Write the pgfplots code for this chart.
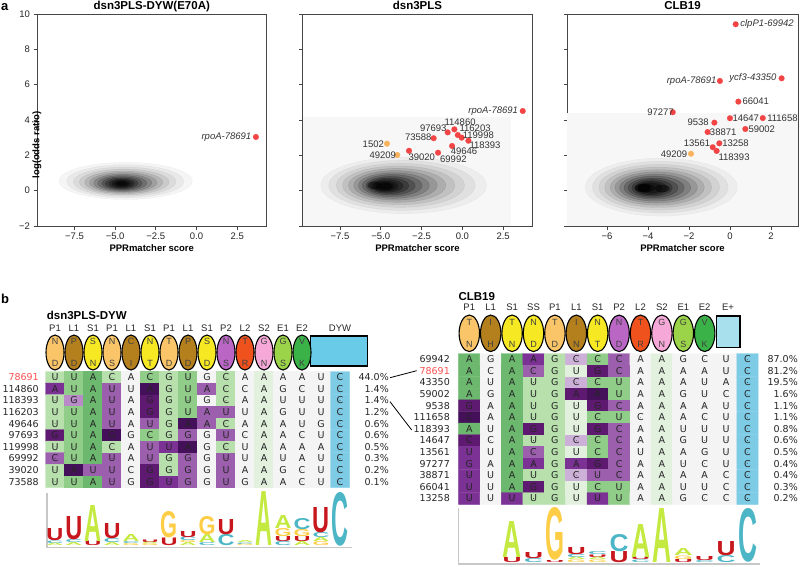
\documentclass[border=0pt]{standalone}
\usepackage{pgfplots}
\pgfplotsset{compat=1.18}
\usepackage{pgfplotstable}
\usepackage{graphicx}
\usepackage{fontspec}
\setmainfont{Liberation Sans}
\newfontfamily\dvs{DejaVu Sans}

\definecolor{ptred}{RGB}{242,68,68}
\definecolor{ptorange}{RGB}{250,178,92}
\definecolor{lblred}{RGB}{250,80,80}
\definecolor{cP1}{RGB}{249,197,104}
\definecolor{cL1}{RGB}{180,128,30}
\definecolor{cS1}{RGB}{246,232,35}
\definecolor{cP2}{RGB}{185,102,196}
\definecolor{cL2}{RGB}{240,82,30}
\definecolor{cS2}{RGB}{246,168,216}
\definecolor{cE1}{RGB}{155,212,72}
\definecolor{cE2}{RGB}{58,178,72}
\definecolor{cDYW}{RGB}{106,203,232}
\definecolor{cEp}{RGB}{168,224,238}
\definecolor{cU}{RGB}{200,22,29}
\definecolor{cA}{RGB}{196,233,64}
\definecolor{cG}{RGB}{253,205,70}
\definecolor{cC}{RGB}{76,182,198}
\definecolor{axgray}{RGB}{70,70,70}

\pgfplotsset{
  pa/.style={scale only axis, height=212pt, ymin=-2, ymax=10,
    ytick={-2,0,2,4,6,8,10},
    axis line style={draw=axgray, line width=0.9pt},
    tick style={draw=axgray, line width=0.8pt},
    tick align=outside, major tick length=3.5pt, tick pos=left,
    tick label style={font=\fontsize{9.5}{11}\selectfont, text=black!85},
    every axis title/.style={at={(axis description cs:0.5,1)}, anchor=base, yshift=4.5pt, font=\bfseries\fontsize{11.5}{13}\selectfont},
    xlabel={PPRmatcher score},
    every axis x label/.style={at={(axis description cs:0.5,0)}, anchor=base, yshift=-25pt, font=\bfseries\fontsize{9.5}{11}\selectfont},
    clip mode=individual},
  blob/.style n args={3}{only marks, mark=*, mark size=#1pt, mark options={xscale=#2, fill=black, draw=none, opacity=#3}},
  redpt/.style={only marks, mark=*, mark size=2.9pt, mark options={fill=ptred, draw=ptred, line width=0.1pt}},
  orpt/.style={only marks, mark=*, mark size=2.9pt, mark options={fill=ptorange, draw=ptorange, line width=0.1pt}},
  ellL/.style={only marks, mark=*, mark size=9pt, mark options={yscale=1.944, fill=#1, draw=black, line width=1.1pt}},
  ellR/.style={only marks, mark=*, mark size=10.2pt, mark options={yscale=1.79, fill=#1, draw=black, line width=1.1pt}},
  alnletters/.style={only marks, mark=*, mark size=0.01pt, mark options={draw=none, fill=none},
    point meta=explicit symbolic, nodes near coords,
    nodes near coords style={anchor=center, font=\dvs\fontsize{9.5}{11}\selectfont, inner sep=0pt, text=black!85}},
}
\tikzset{plab/.style={font=\fontsize{9.5}{11}\selectfont, text=black!80, inner sep=0pt},
  alnt/.style={font=\dvs\fontsize{9.5}{11}\selectfont, inner sep=0pt, text=black!85},
  mlab/.style={font=\fontsize{9.5}{11}\selectfont, inner sep=0pt, text=black!85},
  elet/.style={font=\fontsize{9}{10}\selectfont, inner sep=0pt, text=black!75}}

\pgfplotstableread[row sep=\\]{
c r m l\\
1 1 2 U\\ 2 1 3 U\\ 3 1 4 A\\ 4 1 2 C\\ 5 1 0 A\\ 6 1 3 C\\ 7 1 2 G\\ 8 1 3 U\\ 9 1 0 G\\ 10 1 2 C\\ 11 1 0 A\\ 12 1 1 A\\ 13 1 0 A\\ 14 1 0 A\\ 15 1 0 U\\ 16 1 11 C\\
1 2 8 A\\ 2 2 3 U\\ 3 2 4 A\\ 4 2 7 U\\ 5 2 0 U\\ 6 2 10 A\\ 7 2 2 G\\ 8 2 3 U\\ 9 2 7 A\\ 10 2 2 C\\ 11 2 0 C\\ 12 2 1 A\\ 13 2 0 G\\ 14 2 0 C\\ 15 2 0 U\\ 16 2 11 C\\
1 3 2 U\\ 2 3 6 G\\ 3 3 4 A\\ 4 3 7 U\\ 5 3 0 A\\ 6 3 9 G\\ 7 3 2 G\\ 8 3 3 U\\ 9 3 0 G\\ 10 3 2 C\\ 11 3 0 A\\ 12 3 1 A\\ 13 3 0 U\\ 14 3 0 U\\ 15 3 0 U\\ 16 3 11 C\\
1 4 2 U\\ 2 4 3 U\\ 3 4 4 A\\ 4 4 7 U\\ 5 4 0 A\\ 6 4 9 G\\ 7 4 2 G\\ 8 4 3 U\\ 9 4 7 A\\ 10 4 7 U\\ 11 4 0 U\\ 12 4 1 A\\ 13 4 0 G\\ 14 4 0 U\\ 15 4 0 U\\ 16 4 11 C\\
1 5 2 U\\ 2 5 3 U\\ 3 5 4 A\\ 4 5 7 U\\ 5 5 0 A\\ 6 5 7 U\\ 7 5 2 G\\ 8 5 10 A\\ 9 5 7 A\\ 10 5 2 C\\ 11 5 0 A\\ 12 5 1 A\\ 13 5 0 A\\ 14 5 0 U\\ 15 5 0 G\\ 16 5 11 C\\
1 6 9 G\\ 2 6 3 U\\ 3 6 4 A\\ 4 6 10 G\\ 5 6 0 G\\ 6 6 3 C\\ 7 6 2 G\\ 8 6 7 G\\ 9 6 0 G\\ 10 6 7 U\\ 11 6 0 C\\ 12 6 1 A\\ 13 6 0 A\\ 14 6 0 C\\ 15 6 0 U\\ 16 6 11 C\\
1 7 2 U\\ 2 7 3 U\\ 3 7 4 A\\ 4 7 2 C\\ 5 7 0 A\\ 6 7 7 U\\ 7 7 8 U\\ 8 7 10 A\\ 9 7 0 G\\ 10 7 2 C\\ 11 7 0 U\\ 12 7 1 A\\ 13 7 0 A\\ 14 7 0 A\\ 15 7 0 A\\ 16 7 11 C\\
1 8 7 C\\ 2 8 3 U\\ 3 8 4 A\\ 4 8 7 U\\ 5 8 0 A\\ 6 8 7 U\\ 7 8 2 G\\ 8 8 7 G\\ 9 8 0 G\\ 10 8 7 U\\ 11 8 0 U\\ 12 8 1 A\\ 13 8 0 U\\ 14 8 0 A\\ 15 8 0 U\\ 16 8 11 C\\
1 9 2 U\\ 2 9 10 A\\ 3 9 7 U\\ 4 9 7 U\\ 5 9 0 C\\ 6 9 9 G\\ 7 9 2 G\\ 8 9 7 G\\ 9 9 0 G\\ 10 9 7 U\\ 11 9 0 A\\ 12 9 1 A\\ 13 9 0 G\\ 14 9 0 C\\ 15 9 0 U\\ 16 9 11 C\\
1 10 2 U\\ 2 10 3 U\\ 3 10 4 A\\ 4 10 7 U\\ 5 10 0 G\\ 6 10 9 G\\ 7 10 8 U\\ 8 10 7 G\\ 9 10 0 G\\ 10 10 7 U\\ 11 10 0 G\\ 12 10 1 A\\ 13 10 0 A\\ 14 10 0 C\\ 15 10 0 U\\ 16 10 11 C\\
}\leftaln

\pgfplotstableread[row sep=\\]{
c r m l\\
1 1 4 A\\ 2 1 0 G\\ 3 1 4 A\\ 4 1 8 A\\ 5 1 2 G\\ 6 1 5 C\\ 7 1 3 C\\ 8 1 7 C\\ 9 1 0 A\\ 10 1 1 A\\ 11 1 0 G\\ 12 1 0 C\\ 13 1 0 U\\ 14 1 11 C\\
1 2 4 A\\ 2 2 0 C\\ 3 2 4 A\\ 4 2 7 C\\ 5 2 2 G\\ 6 2 1 U\\ 7 2 9 G\\ 8 2 7 C\\ 9 2 0 A\\ 10 2 1 A\\ 11 2 0 A\\ 12 2 0 A\\ 13 2 0 U\\ 14 2 11 C\\
1 3 4 A\\ 2 3 0 U\\ 3 3 4 A\\ 4 3 2 U\\ 5 3 2 G\\ 6 3 5 C\\ 7 3 3 C\\ 8 3 3 U\\ 9 3 0 A\\ 10 3 1 A\\ 11 3 0 A\\ 12 3 0 U\\ 13 3 0 A\\ 14 3 11 C\\
1 4 4 A\\ 2 4 0 G\\ 3 4 4 A\\ 4 4 2 U\\ 5 4 2 G\\ 6 4 9 A\\ 7 4 10 A\\ 8 4 3 U\\ 9 4 0 A\\ 10 4 1 A\\ 11 4 0 G\\ 12 4 0 U\\ 13 4 0 C\\ 14 4 11 C\\
1 5 9 G\\ 2 5 0 A\\ 3 5 4 A\\ 4 5 2 U\\ 5 5 2 G\\ 6 5 1 U\\ 7 5 9 G\\ 8 5 7 C\\ 9 5 0 A\\ 10 5 1 A\\ 11 5 0 A\\ 12 5 0 A\\ 13 5 0 U\\ 14 5 11 C\\
1 6 10 C\\ 2 6 0 A\\ 3 6 4 A\\ 4 6 2 U\\ 5 6 2 G\\ 6 6 1 U\\ 7 6 3 C\\ 8 6 3 U\\ 9 6 0 C\\ 10 6 1 A\\ 11 6 0 A\\ 12 6 0 C\\ 13 6 0 U\\ 14 6 11 C\\
1 7 4 A\\ 2 7 0 U\\ 3 7 4 A\\ 4 7 9 G\\ 5 7 2 G\\ 6 7 1 U\\ 7 7 9 G\\ 8 7 7 C\\ 9 7 0 A\\ 10 7 1 A\\ 11 7 0 U\\ 12 7 0 U\\ 13 7 0 U\\ 14 7 11 C\\
1 8 9 C\\ 2 8 0 C\\ 3 8 4 A\\ 4 8 2 U\\ 5 8 2 G\\ 6 8 5 C\\ 7 8 3 C\\ 8 8 7 C\\ 9 8 0 A\\ 10 8 1 A\\ 11 8 0 G\\ 12 8 0 U\\ 13 8 0 U\\ 14 8 11 C\\
1 9 8 U\\ 2 9 0 U\\ 3 9 4 A\\ 4 9 7 C\\ 5 9 2 G\\ 6 9 1 U\\ 7 9 3 C\\ 8 9 7 C\\ 9 9 0 U\\ 10 9 1 A\\ 11 9 0 A\\ 12 9 0 G\\ 13 9 0 U\\ 14 9 11 C\\
1 10 8 G\\ 2 10 0 A\\ 3 10 4 A\\ 4 10 8 A\\ 5 10 2 G\\ 6 10 8 A\\ 7 10 9 G\\ 8 10 7 C\\ 9 10 0 A\\ 10 10 1 A\\ 11 10 0 U\\ 12 10 0 C\\ 13 10 0 U\\ 14 10 11 C\\
1 11 8 U\\ 2 11 0 U\\ 3 11 4 A\\ 4 11 2 U\\ 5 11 2 G\\ 6 11 5 C\\ 7 11 7 U\\ 8 11 7 C\\ 9 11 0 A\\ 10 11 1 A\\ 11 11 0 A\\ 12 11 0 A\\ 13 11 0 C\\ 14 11 11 C\\
1 12 8 U\\ 2 12 0 U\\ 3 12 4 A\\ 4 12 9 G\\ 5 12 2 G\\ 6 12 1 U\\ 7 12 3 C\\ 8 12 3 U\\ 9 12 0 A\\ 10 12 1 A\\ 11 12 0 U\\ 12 12 0 U\\ 13 12 0 C\\ 14 12 11 C\\
1 13 8 U\\ 2 13 0 U\\ 3 13 8 U\\ 4 13 2 U\\ 5 13 2 G\\ 6 13 1 U\\ 7 13 8 U\\ 8 13 3 U\\ 9 13 0 A\\ 10 13 1 A\\ 11 13 0 G\\ 12 13 0 C\\ 13 13 0 C\\ 14 13 11 C\\
}\rightaln

\begin{document}
\begin{tikzpicture}[x=1pt,y=-1pt]
\useasboundingbox (0,0) rectangle (800,567);

% ---------------- panel b (pixel-coordinate axis) ----------------
\begin{axis}[at={(0pt,0pt)}, anchor=north west, scale only axis, width=800pt, height=567pt,
  xmin=0, xmax=800, ymin=0, ymax=567, y dir=reverse, hide axis, clip=false,
  colormap={aln}{rgb255=(244,244,244) rgb255=(226,241,222) rgb255=(183,224,173) rgb255=(143,205,136)
    rgb255=(108,184,110) rgb255=(205,176,216) rgb255=(185,138,200) rgb255=(156,95,174)
    rgb255=(123,50,148) rgb255=(94,26,112) rgb255=(69,16,90) rgb255=(126,203,230)}]
\addplot[matrix plot*, mesh/cols=16, point meta=explicit, colormap access=direct]
  table[x expr={55+19*(\thisrow{c}-1)}, y expr={377.3+11.6*(\thisrow{r}-1)}, meta=m] {\leftaln};
\addplot[matrix plot*, mesh/cols=14, point meta=explicit, colormap access=direct]
  table[x expr={469.3+21.4*(\thisrow{c}-1)}, y expr={359.3+11.6*(\thisrow{r}-1)}, meta=m] {\rightaln};
\addplot[alnletters] table[x expr={55+19*(\thisrow{c}-1)}, y expr={377.3+11.6*(\thisrow{r}-1)}, meta=l] {\leftaln};
\addplot[alnletters] table[x expr={469.3+21.4*(\thisrow{c}-1)}, y expr={359.3+11.6*(\thisrow{r}-1)}, meta=l] {\rightaln};
% motif ellipses (left)
\addplot[ellL=cP1] coordinates {(55,352.5) (112,352.5) (169,352.5)};
\addplot[ellL=cL1] coordinates {(74,352.5) (131,352.5) (188,352.5)};
\addplot[ellL=cS1] coordinates {(93,352.5) (150,352.5) (207,352.5)};
\addplot[ellL=cP2] coordinates {(226,352.5)};
\addplot[ellL=cL2] coordinates {(245,352.5)};
\addplot[ellL=cS2] coordinates {(264,352.5)};
\addplot[ellL=cE1] coordinates {(283,352.5)};
\addplot[ellL=cE2] coordinates {(302,352.5)};
\addplot[fill=cDYW, draw=black, line width=1.3pt] coordinates {(310.7,336) (367.7,336) (367.7,366) (310.7,366)} -- cycle;
% motif ellipses (right)
\addplot[ellR=cP1] coordinates {(469.3,333.3) (554.9,333.3)};
\addplot[ellR=cL1] coordinates {(490.7,333.3) (576.3,333.3)};
\addplot[ellR=cS1] coordinates {(512.1,333.3) (533.5,333.3) (597.7,333.3)};
\addplot[ellR=cP2] coordinates {(619.1,333.3)};
\addplot[ellR=cL2] coordinates {(640.5,333.3)};
\addplot[ellR=cS2] coordinates {(661.9,333.3)};
\addplot[ellR=cE1] coordinates {(683.3,333.3)};
\addplot[ellR=cE2] coordinates {(704.7,333.3)};
\addplot[fill=cEp, draw=black, line width=1.3pt] coordinates {(716.7,316) (740,316) (740,347.7) (716.7,347.7)} -- cycle;
\end{axis}

% ---------------- panel a ----------------
\begin{axis}[pa, at={(37pt,-226pt)}, anchor=south west, width=229.5pt,
  xmin=-9.8, xmax=4.3, xtick={-7.5,-5,-2.5,0,2.5}, xticklabels={−7.5,−5.0,−2.5,0.0,2.5},
  yticklabels={−2,0,2,4,6,8,10}, ylabel={log(odds ratio)},
  every axis y label/.style={at={(axis description cs:0,0.5)}, rotate=90, anchor=center, xshift=-25pt, font=\bfseries\fontsize{9.5}{11}\selectfont},
  title={dsn3PLS-DYW(E70A)}]
\addplot[blob={18.6}{3.59}{0.04}] coordinates {(-4.35,0.55)};
\addplot[blob={16.5}{3.55}{0.05}] coordinates {(-4.38,0.53)};
\addplot[blob={14.6}{3.52}{0.06}] coordinates {(-4.41,0.51)};
\addplot[blob={12.9}{3.48}{0.08}] coordinates {(-4.44,0.49)};
\addplot[blob={11.4}{3.43}{0.10}] coordinates {(-4.47,0.47)};
\addplot[blob={10.0}{3.37}{0.12}] coordinates {(-4.5,0.46)};
\addplot[blob={8.8}{3.3}{0.15}] coordinates {(-4.53,0.44)};
\addplot[blob={7.6}{3.22}{0.18}] coordinates {(-4.56,0.43)};
\addplot[blob={6.5}{3.12}{0.22}] coordinates {(-4.58,0.42)};
\addplot[blob={5.5}{3.0}{0.26}] coordinates {(-4.6,0.41)};
\addplot[blob={4.5}{2.88}{0.30}] coordinates {(-4.6,0.4)};
\addplot[blob={3.6}{2.74}{0.35}] coordinates {(-4.6,0.4)};
\addplot[blob={2.7}{2.6}{0.40}] coordinates {(-4.6,0.4)};
\addplot[blob={1.9}{2.45}{0.45}] coordinates {(-4.6,0.4)};
\addplot[redpt] coordinates {(3.65,3.04)};
\node[plab, anchor=east, xshift=-4.5pt] at (axis cs:3.65,3.04) {\itshape rpoA-78691};
\end{axis}

\begin{axis}[pa, at={(302.5pt,-226pt)}, anchor=south west, width=230pt,
  xmin=-9.8, xmax=4.3, xtick={-7.5,-5,-2.5,0,2.5}, xticklabels={−7.5,−5.0,−2.5,0.0,2.5},
  yticklabels={,,,,,,}, title={dsn3PLS}]
\addplot[fill=black!3, draw=none] coordinates {(-9.8,-2) (3.0,-2) (3.0,4.15) (-9.8,4.15)} -- cycle;
\addplot[blob={28.3}{2.93}{0.04}] coordinates {(-3.6,0.3)};
\addplot[blob={25}{2.93}{0.05}] coordinates {(-3.7,0.3)};
\addplot[blob={22}{2.92}{0.06}] coordinates {(-3.8,0.3)};
\addplot[blob={19.4}{2.9}{0.08}] coordinates {(-3.9,0.3)};
\addplot[blob={17}{2.87}{0.10}] coordinates {(-4.0,0.3)};
\addplot[blob={14.8}{2.83}{0.12}] coordinates {(-4.1,0.3)};
\addplot[blob={12.8}{2.78}{0.15}] coordinates {(-4.2,0.29)};
\addplot[blob={11}{2.72}{0.18}] coordinates {(-4.3,0.29)};
\addplot[blob={9.3}{2.65}{0.22}] coordinates {(-4.4,0.28)};
\addplot[blob={7.8}{2.57}{0.26}] coordinates {(-4.5,0.28)};
\addplot[blob={6.4}{2.48}{0.30}] coordinates {(-4.6,0.27)};
\addplot[blob={5.1}{2.38}{0.35}] coordinates {(-4.7,0.26)};
\addplot[blob={3.9}{2.27}{0.40}] coordinates {(-4.75,0.25)};
\addplot[blob={2.8}{2.15}{0.45}] coordinates {(-4.7,0.25)};
\addplot[blob={3.5}{1.9}{0.40}] coordinates {(-5.4,0.3)};
\addplot[redpt] coordinates {(3.70,4.51) (-0.90,3.30) (-0.49,3.47) (-0.28,3.15) (-0.04,3.00) (0.37,2.83) (-1.76,2.97) (-0.63,2.53) (-1.49,2.15) (-3.27,2.26)};
\addplot[orpt] coordinates {(-4.62,2.66) (-3.99,2.02)};
\node[plab, anchor=east, xshift=-4.5pt] at (axis cs:3.70,4.51) {\itshape rpoA-78691};
\node[plab] at (axis cs:-0.14,3.87) {114860};
\node[plab] at (axis cs:-1.78,3.53) {97693};
\node[plab] at (axis cs:0.78,3.53) {116203};
\node[plab] at (axis cs:0.98,3.15) {119998};
\node[plab] at (axis cs:1.39,2.59) {118393};
\node[plab] at (axis cs:-2.70,3.0) {73588};
\node[plab] at (axis cs:0.10,2.25) {49646};
\node[plab] at (axis cs:-0.55,1.79) {69992};
\node[plab] at (axis cs:-2.49,1.87) {39020};
\node[plab] at (axis cs:-5.46,2.63) {1502};
\node[plab] at (axis cs:-4.88,1.98) {49209};
\end{axis}

\begin{axis}[pa, at={(567pt,-226pt)}, anchor=south west, width=231pt,
  xmin=-7.95, xmax=3.32, xtick={-6,-4,-2,0,2}, xticklabels={−6,−4,−2,0,2},
  yticklabels={,,,,,,}, title={CLB19}]
\addplot[fill=black!3, draw=none] coordinates {(-7.95,-2) (3.32,-2) (3.32,4.4) (-7.95,4.4)} -- cycle;
\addplot[blob={29}{2.62}{0.04}] coordinates {(-3.35,0.2)};
\addplot[blob={25.8}{2.63}{0.05}] coordinates {(-3.4,0.2)};
\addplot[blob={22.9}{2.64}{0.06}] coordinates {(-3.45,0.19)};
\addplot[blob={20.2}{2.65}{0.08}] coordinates {(-3.5,0.19)};
\addplot[blob={17.8}{2.65}{0.10}] coordinates {(-3.55,0.18)};
\addplot[blob={15.6}{2.65}{0.12}] coordinates {(-3.6,0.18)};
\addplot[blob={13.5}{2.64}{0.15}] coordinates {(-3.65,0.17)};
\addplot[blob={11.6}{2.6}{0.18}] coordinates {(-3.7,0.17)};
\addplot[blob={9.8}{2.55}{0.22}] coordinates {(-3.75,0.16)};
\addplot[blob={8.2}{2.48}{0.26}] coordinates {(-3.8,0.16)};
\addplot[blob={6.7}{2.4}{0.30}] coordinates {(-3.85,0.15)};
\addplot[blob={5.3}{2.3}{0.35}] coordinates {(-3.9,0.15)};
\addplot[blob={4.0}{2.2}{0.40}] coordinates {(-4.1,0.15)};
\addplot[blob={2.9}{2.1}{0.45}] coordinates {(-4.2,0.15)};
\addplot[blob={4}{2.0}{0.45}] coordinates {(-4.25,0.15)};
\addplot[blob={3.5}{2.0}{0.45}] coordinates {(-3.3,0.12)};
\addplot[redpt] coordinates {(0.28,9.42) (2.52,6.36) (-0.49,6.21) (0.41,5.04) (-2.79,4.44) (0.0,4.10) (1.6,4.11) (-0.76,3.85) (-1.09,3.32) (0.75,3.49) (-0.52,2.68) (-0.84,2.46) (-0.65,2.25)};
\addplot[orpt] coordinates {(-1.9,2.09)};
\node[plab] at (axis cs:1.81,9.42) {\itshape clpP1-69942};
\node[plab] at (axis cs:1.12,6.36) {\itshape ycf3-43350};
\node[plab] at (axis cs:-1.87,6.21) {\itshape rpoA-78691};
\node[plab] at (axis cs:1.26,5.04) {66041};
\node[plab] at (axis cs:-3.39,4.44) {97277};
\node[plab] at (axis cs:0.77,4.10) {14647};
\node[plab] at (axis cs:2.56,4.11) {111658};
\node[plab] at (axis cs:-1.55,3.85) {9538};
\node[plab] at (axis cs:-0.33,3.32) {38871};
\node[plab] at (axis cs:1.55,3.49) {59002};
\node[plab] at (axis cs:0.27,2.68) {13258};
\node[plab] at (axis cs:-1.61,2.68) {13561};
\node[plab] at (axis cs:0.20,1.87) {118393};
\node[plab] at (axis cs:-2.73,2.09) {49209};
\end{axis}

% ---------------- text of panel b ----------------
\node[anchor=west, inner sep=0pt, font=\bfseries\fontsize{13}{15}\selectfont] at (1,7) {a};
\node[anchor=west, inner sep=0pt, font=\bfseries\fontsize{13}{15}\selectfont] at (1,299) {b};
\node[anchor=west, inner sep=0pt, font=\bfseries\fontsize{11.5}{13}\selectfont] at (46.7,315.3) {dsn3PLS-DYW};
\node[anchor=west, inner sep=0pt, font=\bfseries\fontsize{11.5}{13}\selectfont] at (458.3,296.7) {CLB19};

\foreach \xx/\tp/\bt/\mm in {55/N/D/P1, 74/P/D/L1, 93/S/N/S1, 112/N/S/P1, 131/C/I/L1, 150/N/T/S1, 169/T/D/P1, 188/P/D/L1, 207/S/D/S1, 226/N/S/P2, 245/T/R/L2, 264/G/N/S2, 283/G/S/E1, 302/V/K/E2}
  {\node[elet] at (\xx,341.5) {\tp}; \node[elet] at (\xx,363.5) {\bt}; \node[mlab] at (\xx,328.3) {\mm};}
\node[mlab] at (340,328.3) {DYW};
\foreach \xx/\tp/\bt/\mm in {469.3/T/N/P1, 490.7/I/H/L1, 512.1/T/N/S1, 533.5/N/D/SS, 554.9/T/D/P1, 576.3/I/N/L1, 597.7/N/T/S1, 619.1/N/D/P2, 640.5/T/R/L2, 661.9/G/N/S2, 683.3/G/S/E1, 704.7/V/K/E2}
  {\node[elet] at (\xx,322.3) {\tp}; \node[elet] at (\xx,344.3) {\bt}; \node[mlab] at (\xx,307.3) {\mm};}
\node[mlab] at (728,307.3) {E+};

\foreach \yy/\nm in {377.3/{\textcolor{lblred}{78691}}, 388.9/114860, 400.5/118393, 412.1/116203, 423.7/49646, 435.3/97693, 446.9/119998, 458.5/69992, 470.1/39020, 481.7/73588}
  {\node[alnt, anchor=east] at (39,\yy) {\nm};}
\foreach \yy/\pp in {377.3/44.0, 388.9/1.4, 400.5/1.4, 412.1/1.2, 423.7/0.6, 435.3/0.6, 446.9/0.5, 458.5/0.3, 470.1/0.2, 481.7/0.1}
  {\node[alnt, anchor=east] at (389,\yy) {\pp\%};}
\foreach \yy/\nm in {359.3/69942, 370.9/{\textcolor{lblred}{78691}}, 382.5/43350, 394.1/59002, 405.7/9538, 417.3/111658, 428.9/118393, 440.5/14647, 452.1/13561, 463.7/97277, 475.3/38871, 486.9/66041, 498.5/13258}
  {\node[alnt, anchor=east] at (450,\yy) {\nm};}
\foreach \yy/\pp in {359.3/87.0, 370.9/81.2, 382.5/19.5, 394.1/1.6, 405.7/1.1, 417.3/1.1, 428.9/0.8, 440.5/0.6, 452.1/0.5, 463.7/0.4, 475.3/0.4, 486.9/0.3, 498.5/0.2}
  {\node[alnt, anchor=east] at (798,\yy) {\pp\%};}

\draw[line width=0.8pt] (390,377.7) -- (416.7,370.7);
\draw[line width=0.8pt] (390,401.7) -- (411.7,430);

% sequence logos
\draw[black!22, line width=1.2pt] (47,493) -- (47,547.5) -- (352,547.5);
\draw[black!22, line width=1.2pt] (458.5,508) -- (458.5,564) -- (760,564);
\foreach \xx/\yb/\hh/\ch in {55/546/2.5/A, 55/543.5/2.5/C, 55/541/12/U,
  74/546/3/A, 74/543/3/C, 74/540/23/U, 93/546/4.5/U, 93/541.5/36/A,
  112/546/3/A, 112/543/4/C, 112/539/15/U, 131/546/2/G, 131/544/2/C, 131/542/7/A,
  150/546/2/G, 150/544/1.5/A, 150/542.5/2.5/U, 169/546/7.5/U, 169/538.5/26/G,
  188/546/3/A, 188/543/2/G, 188/541/3.5/C, 188/537.5/6/U, 207/546/3/C, 207/543/8/A, 207/535/18/G,
  226/546/11/C, 226/535/15/U, 245/546/1.5/G, 245/544.5/1.5/C, 245/543/2/A, 264/546/54/A,
  283/546/4/C, 283/542/5/U, 283/537/8/G, 283/529/13/A, 302/546/4/A, 302/542/5/U, 302/537/7/G, 302/530/11/C,
  321/546/4/G, 321/542/4/A, 321/538/5/C, 321/533/25/U, 340/546/53/C}
  {\node[anchor=south, inner sep=0pt] at (\xx,\yb) {\resizebox{17pt}{\hh pt}{\textcolor{c\ch}{\bfseries \ch}}};}
\foreach \xx/\yb/\hh/\ch in {512.1/562.5/5/U, 512.1/557.5/36/A, 533.5/562.5/4/C, 533.5/558.5/6/U,
  554.9/562.5/2/U, 554.9/560.5/52/G, 576.3/562.5/2.5/G, 576.3/560/2.5/A, 576.3/557.5/3/C, 576.3/554.5/7/U,
  597.7/562.5/2.5/G, 597.7/560/2.5/A, 597.7/557.5/2.5/U, 597.7/555/3/C, 619.1/562.5/11/U, 619.1/551.5/17/C,
  640.5/562.5/2.5/C, 640.5/560/2.5/U, 640.5/557.5/33/A, 661.9/562.5/54/A,
  683.3/562.5/3/U, 683.3/559.5/3.5/G, 683.3/556/7/A, 704.7/562.5/2/C, 704.7/560.5/4/U,
  726.1/562.5/7/C, 726.1/555.5/14/U, 747.5/562.5/53/C}
  {\node[anchor=south, inner sep=0pt] at (\xx,\yb) {\resizebox{19pt}{\hh pt}{\textcolor{c\ch}{\bfseries \ch}}};}
\end{tikzpicture}
\end{document}
